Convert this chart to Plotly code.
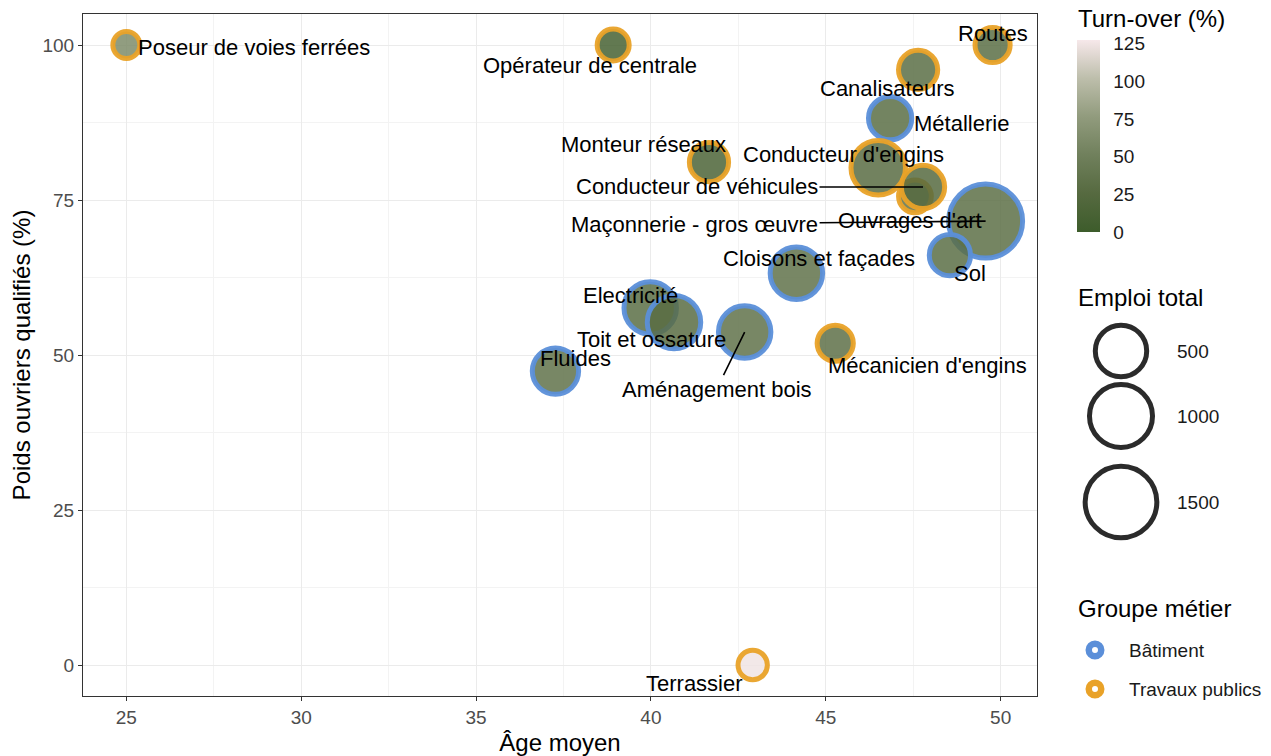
import numpy as np
import plotly.graph_objects as go

# ---------------- data ----------------
metiers = [
    "Poseur de voies ferrées", "Opérateur de centrale", "Routes", "Canalisateurs",
    "Métallerie", "Monteur réseaux", "Conducteur d'engins", "Ouvrages d'art",
    "Conducteur de véhicules", "Maçonnerie - gros œuvre", "Sol", "Cloisons et façades",
    "Electricité", "Toit et ossature", "Aménagement bois", "Fluides",
    "Mécanicien d'engins", "Terrassier",
]
groupes = [
    "Travaux publics", "Travaux publics", "Travaux publics", "Travaux publics",
    "Bâtiment", "Travaux publics", "Travaux publics", "Travaux publics",
    "Travaux publics", "Bâtiment", "Bâtiment", "Bâtiment",
    "Bâtiment", "Bâtiment", "Bâtiment", "Bâtiment",
    "Travaux publics", "Travaux publics",
]
age_moyen = [25.0, 38.92, 49.77, 47.64, 46.84, 41.66, 46.50, 47.55, 47.78, 49.57,
             48.55, 44.16, 39.98, 40.66, 42.68, 37.27, 45.27, 42.91]
poids_qualifies = [100, 100, 100, 96.0, 88.2, 81.1, 80.2, 75.6, 77.1, 71.6,
                   66.1, 63.2, 57.6, 55.3, 53.7, 47.4, 51.9, 0]
emploi_total = [76, 94, 123, 182, 265, 182, 614, 100, 265, 1650,
                221, 537, 537, 575, 537, 342, 136, 80]
turnover = [62, 10, 30, 30, 30, 15, 28, 35, 25, 32,
            30, 35, 30, 28, 35, 35, 33, 125]

groupe_noms = ["Bâtiment", "Travaux publics"]
taille_legende = [500, 1000, 1500]
turnover_ticks = [0, 25, 50, 75, 100, 125]

# label placement (pixel offsets of label centre from point; y downwards)
label_dx = [10, -23, 0, -31, 71, -65, -35, -5, -226, -291, 20, 23, -20, -23, -28, 20, 92, -58]
label_dy = [2, 20, -12, 19, 5, -18, -13, 24, 0, 3, 18, -15, -12, 17, 57, -13, 22, 18]
label_arrow = [False, False, False, False, False, False, False, False, True, True,
               False, False, False, False, True, False, False, False]

# ---------------- styling ----------------
W, H = 1271, 756
ML, MT, MB = 83, 14, 60
PLOT_R = 1037
PLOT_B = H - MB
dom_right = (PLOT_R - ML) / (W - ML)
FONT = "Arial, Liberation Sans, sans-serif"

ring_colors = {"Bâtiment": "rgba(91,143,217,0.95)", "Travaux publics": "rgba(233,162,40,0.95)"}
ring_solid = {"Bâtiment": "#5b8fd9", "Travaux publics": "#e9a228"}

cs_stops = [(0.0, (61, 92, 43)), (0.2, (86, 106, 64)), (0.4, (112, 128, 92)),
            (0.6, (145, 155, 125)), (0.8, (189, 190, 171)), (1.0, (246, 232, 234))]
cs_opaque = [[p, "rgb(%d,%d,%d)" % c] for p, c in cs_stops]
cs_alpha = [[p, "rgba(%d,%d,%d,0.85)" % c] for p, c in cs_stops]
CMIN, CMAX = 0, 127.5

vmin, vmax = min(emploi_total), max(emploi_total)


def outer_diam(v):
    v = np.asarray(v, dtype=float)
    return 32 + 47 * np.sqrt(np.clip((v - vmin) / (vmax - vmin), 0, None))


RING = 5
fig = go.Figure()

fig.add_trace(go.Scatter(
    x=age_moyen, y=poids_qualifies, mode="markers",
    marker=dict(
        size=outer_diam(emploi_total) - RING, sizemode="diameter", opacity=1,
        color=turnover, colorscale=cs_alpha, cmin=CMIN, cmax=CMAX, showscale=False,
        line=dict(color=[ring_colors[g] for g in groupes], width=RING),
    ),
    text=metiers, hoverinfo="text", showlegend=False, cliponaxis=False,
))

# colour bar (opaque)
fig.add_trace(go.Scatter(
    x=[-1e6], y=[-1e6], xaxis="x2", yaxis="y2", mode="markers",
    marker=dict(size=1, opacity=1, color=[0], colorscale=cs_opaque, cmin=CMIN, cmax=CMAX, showscale=True,
                colorbar=dict(
                    x=(1077 - ML) / (W - ML), xanchor="left",
                    y=(PLOT_B - 40) / (PLOT_B - MT), yanchor="top",
                    lenmode="pixels", len=192, thickness=23,
                    tickvals=turnover_ticks, ticks="outside", ticklen=10, tickcolor="white",
                    tickfont=dict(size=19, color="#1a1a1a", family=FONT),
                    outlinewidth=0, xpad=0, ypad=0,
                )),
    showlegend=False, hoverinfo="skip",
))

# size legend
size_y = [351, 416, 502]
fig.add_trace(go.Scatter(
    x=[1121] * len(taille_legende), y=size_y, xaxis="x2", yaxis="y2", mode="markers",
    marker=dict(size=outer_diam(taille_legende) - RING, color="white", opacity=1,
                line=dict(color="#2b2b2b", width=RING)),
    showlegend=False, hoverinfo="skip", cliponaxis=False,
))
# group legend
grp_y = [650, 689]
fig.add_trace(go.Scatter(
    x=[1095] * 2, y=grp_y, xaxis="x2", yaxis="y2", mode="markers",
    marker=dict(size=12.5, color="white", opacity=1,
                line=dict(color=[ring_solid[g] for g in groupe_noms], width=6.5)),
    showlegend=False, hoverinfo="skip", cliponaxis=False,
))

annotations = []
for name, x, y, dx, dy, arr in zip(metiers, age_moyen, poids_qualifies, label_dx, label_dy, label_arrow):
    base = dict(x=x, y=y, xref="x", yref="y", text=name,
                font=dict(size=22, color="black", family=FONT))
    if arr:
        base.update(showarrow=True, ax=dx, ay=dy, arrowhead=0, arrowwidth=1.6,
                    arrowcolor="black", standoff=0, startstandoff=0)
    elif name == "Poseur de voies ferrées":
        base.update(showarrow=False, xanchor="left", xshift=dx, yshift=-dy)
    else:
        base.update(showarrow=False, xshift=dx, yshift=-dy)
    annotations.append(base)

leg_font = dict(size=19, color="#1a1a1a", family=FONT)
tit_font = dict(size=24, color="black", family=FONT)
for txt, yy in [("Turn-over (%)", 18), ("Emploi total", 297), ("Groupe métier", 608)]:
    annotations.append(dict(x=1076, y=yy, xref="x2", yref="y2", text=txt, showarrow=False,
                            xanchor="left", yanchor="middle", font=tit_font))
for v, yy in zip(taille_legende, size_y):
    annotations.append(dict(x=1175, y=yy, xref="x2", yref="y2", text=str(v), showarrow=False,
                            xanchor="left", yanchor="middle", font=leg_font))
for g, yy in zip(groupe_noms, grp_y):
    annotations.append(dict(x=1127, y=yy, xref="x2", yref="y2", text=g, showarrow=False,
                            xanchor="left", yanchor="middle", font=leg_font))

axis_common = dict(
    showline=True, mirror=True, linecolor="#333333", linewidth=1,
    ticks="outside", ticklen=4, tickcolor="#333333", tickwidth=1,
    tickfont=dict(size=19, color="#4d4d4d", family=FONT),
    showgrid=True, gridcolor="#ebebeb", gridwidth=1.4, zeroline=False, automargin=False,
)

fig.update_layout(
    width=W, height=H,
    margin=dict(l=ML, r=0, t=MT, b=MB, pad=0),
    paper_bgcolor="white", plot_bgcolor="white",
    font=dict(family=FONT),
    xaxis=dict(axis_common, domain=[0, dom_right], range=[23.76, 51.04],
               tickvals=[25, 30, 35, 40, 45, 50],
               minor=dict(dtick=2.5, tick0=22.5, showgrid=True, gridcolor="#f3f3f3", gridwidth=1, ticks=""),
               title=dict(text="Âge moyen", font=dict(size=24, color="black", family=FONT), standoff=10)),
    yaxis=dict(axis_common, range=[-5, 105], tickvals=[0, 25, 50, 75, 100],
               minor=dict(dtick=12.5, tick0=0, showgrid=True, gridcolor="#f3f3f3", gridwidth=1, ticks=""),
               title=dict(text="Poids ouvriers qualifiés (%)", font=dict(size=24, color="black", family=FONT),
                          standoff=5)),
    xaxis2=dict(domain=[dom_right, 1], range=[PLOT_R, W], visible=False, anchor="y2", fixedrange=True),
    yaxis2=dict(domain=[0, 1], range=[PLOT_B, MT], visible=False, anchor="x2", fixedrange=True),
    annotations=annotations,
    showlegend=False,
)

fig.write_html("out.html", config={"displayModeBar": False},
               post_script="document.body.style.margin='0';document.body.style.overflow='hidden';")
